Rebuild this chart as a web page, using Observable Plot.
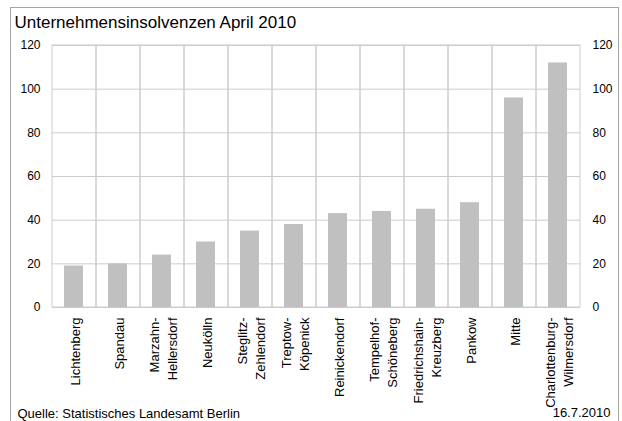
<!DOCTYPE html>
<html>
<head>
<meta charset="utf-8">
<script src="https://cdn.jsdelivr.net/npm/d3@7"></script>
<script src="https://cdn.jsdelivr.net/npm/@observablehq/plot@0.6"></script>
<style>
  body { margin: 0; background: #fff; }
  #wrap { position: relative; width: 622px; height: 421px; overflow: hidden; font-family: "Liberation Sans", Arial, sans-serif; }
  #border { position: absolute; left: 10px; top: 7px; width: 609px; height: 420px; border: 1px solid #a6a6a6; box-sizing: border-box; }
  #wrap svg { position: absolute; left: 0; top: 0; }
</style>
</head>
<body>
<div id="wrap"><div id="border"></div></div>
<script>
const districts = ["Lichtenberg", "Spandau", "Marzahn-Hellersdorf", "Neukölln", "Steglitz-Zehlendorf",
  "Treptow-Köpenick", "Reinickendorf", "Tempelhof-Schöneberg", "Friedrichshain-Kreuzberg",
  "Pankow", "Mitte", "Charlottenburg-Wilmersdorf"];
const insolvencies = [19, 20, 24, 30, 35, 38, 43, 44, 45, 48, 96, 112];
const yTicks = [0, 20, 40, 60, 80, 100, 120];
const titleText = "Unternehmensinsolvenzen April 2010";
const sourceText = "Quelle: Statistisches Landesamt Berlin";
const dateText = "16.7.2010";

const data = districts.map((d, i) => ({district: d, value: insolvencies[i]}));
const yMax = d3.max(yTicks);
const splitLabel = d => d.replace("-", "-\n");
const gridColor = "#cccccc";

const chart = Plot.plot({
  width: 622,
  height: 421,
  marginTop: 45,
  marginBottom: 114,
  marginLeft: 52,
  marginRight: 42,
  style: {fontFamily: "'Liberation Sans', Arial, sans-serif", fontSize: "12px", color: "#000", background: "transparent", overflow: "visible"},
  x: {domain: districts, padding: 0, axis: null},
  y: {domain: [0, yMax], axis: null},
  marks: [
    Plot.ruleY(yTicks, {stroke: gridColor, strokeWidth: 1}),
    Plot.barY(data, {x: "district", y1: 0, y2: yMax, fill: "none", stroke: gridColor, strokeWidth: 1}),
    Plot.barY(data, {x: "district", y: "value", fill: "#c0c0c0", insetLeft: 12, insetRight: 13}),
    Plot.axisY(yTicks, {anchor: "left", tickSize: 0, tickPadding: 12, fontSize: 12, label: null}),
    Plot.axisY(yTicks, {anchor: "right", tickSize: 0, tickPadding: 12, fontSize: 12, label: null}),
    Plot.text(districts, {x: d => d, text: splitLabel, frameAnchor: "bottom", rotate: -90,
      textAnchor: "end", lineAnchor: "middle", dy: 10, fontSize: 13, lineHeight: 1.4, fill: "#000"}),
    Plot.text([titleText], {frameAnchor: "top-left", dx: -38, dy: -18, textAnchor: "start",
      lineAnchor: "bottom", fontSize: 17, fill: "#000"}),
    Plot.text([sourceText], {frameAnchor: "bottom-left", dx: -35, dy: 110, textAnchor: "start",
      lineAnchor: "bottom", fontSize: 13, fill: "#000"}),
    Plot.text([dateText], {frameAnchor: "bottom-right", dx: 30, dy: 109, textAnchor: "end",
      lineAnchor: "bottom", fontSize: 13, fill: "#000"})
  ]
});
document.getElementById("wrap").appendChild(chart);
</script>
</body>
</html>
